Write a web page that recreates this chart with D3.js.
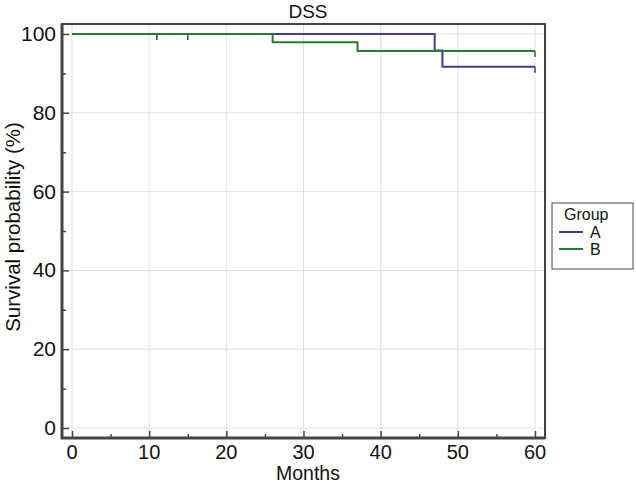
<!DOCTYPE html>
<html>
<head>
<meta charset="utf-8">
<script src="https://cdn.jsdelivr.net/npm/d3@7"></script>
<style>
  body { margin: 0; background: #fff; }
  svg { font-family: "Liberation Sans", Arial, sans-serif; }
</style>
</head>
<body>
<script>
const width = 636;
const height = 484;

// step data: [month, survival %]
const groupA = [[0, 100], [47, 100], [47, 95.8], [48, 95.8], [48, 91.7], [60, 91.7]];
const groupB = [[0, 100], [26, 100], [26, 97.9], [37, 97.9], [37, 95.7], [60, 95.7]];
const censorA = [[11, 100], [15, 100], [60, 91.7]];
const censorB = [[60, 95.7]];
const groups = ["A", "B"];
const colors = ["#3b3d96", "#2b7a32"];
const xTicks = [0, 10, 20, 30, 40, 50, 60];
const yTicks = [0, 20, 40, 60, 80, 100];

const frame = { left: 62, right: 545, top: 24, bottom: 438 };

const x = d3.scaleLinear().domain([0, 60]).range([72, 535]);
const y = d3.scaleLinear().domain([0, 100]).range([428, 34]);

const svg = d3.select("body").append("svg")
  .attr("width", width)
  .attr("height", height);

// grid
svg.append("g")
  .selectAll("line")
  .data(xTicks)
  .join("line")
  .attr("x1", d => x(d)).attr("x2", d => x(d))
  .attr("y1", frame.top).attr("y2", frame.bottom)
  .attr("stroke", "#e0e0e0").attr("stroke-width", 1);

svg.append("g")
  .selectAll("line")
  .data(yTicks)
  .join("line")
  .attr("x1", frame.left).attr("x2", frame.right)
  .attr("y1", d => y(d)).attr("y2", d => y(d))
  .attr("stroke", "#e0e0e0").attr("stroke-width", 1);

// curves
const line = d3.line().x(d => x(d[0])).y(d => y(d[1]));
const series = [groupA, groupB];
const censors = [censorA, censorB];

series.forEach((s, i) => {
  svg.append("path")
    .attr("d", line(s))
    .attr("fill", "none")
    .attr("stroke", colors[i])
    .attr("stroke-width", 2);

  svg.append("g")
    .selectAll("line")
    .data(censors[i])
    .join("line")
    .attr("x1", d => x(d[0])).attr("x2", d => x(d[0]))
    .attr("y1", d => y(d[1])).attr("y2", d => y(d[1]) + 6)
    .attr("stroke", colors[i])
    .attr("stroke-width", 1.5);
});

// frame
svg.append("rect")
  .attr("x", frame.left).attr("y", frame.top)
  .attr("width", frame.right - frame.left)
  .attr("height", frame.bottom - frame.top)
  .attr("fill", "none")
  .attr("stroke", "#444")
  .attr("stroke-width", 2);
// heavier left and bottom edges
svg.append("path")
  .attr("d", `M${frame.left},${frame.top}V${frame.bottom}H${frame.right}`)
  .attr("fill", "none")
  .attr("stroke", "#444")
  .attr("stroke-width", 3);

// axes (ticks inward)
const xAxis = svg.append("g")
  .attr("transform", `translate(0,${frame.bottom})`)
  .call(d3.axisBottom(x).tickValues(d3.range(0, 61, 5)).tickSize(-6).tickFormat(""));
xAxis.select(".domain").remove();
xAxis.selectAll(".tick line")
  .attr("stroke", "#444").attr("stroke-width", 1.5)
  .attr("y2", d => d % 10 === 0 ? -7 : -4);

svg.append("g")
  .selectAll("text")
  .data(xTicks)
  .join("text")
  .attr("x", d => x(d))
  .attr("y", 459)
  .attr("text-anchor", "middle")
  .attr("font-size", 20)
  .attr("fill", "#111")
  .text(d => d);

const yAxis = svg.append("g")
  .attr("transform", `translate(${frame.left},0)`)
  .call(d3.axisLeft(y).tickValues(d3.range(0, 101, 10)).tickSize(-6).tickFormat(""));
yAxis.select(".domain").remove();
yAxis.selectAll(".tick line")
  .attr("stroke", "#444").attr("stroke-width", 1.5)
  .attr("x2", d => d % 20 === 0 ? 7 : 4);

svg.append("g")
  .selectAll("text")
  .data(yTicks)
  .join("text")
  .attr("x", 56)
  .attr("y", d => y(d) + 7)
  .attr("text-anchor", "end")
  .attr("font-size", 21)
  .attr("fill", "#111")
  .text(d => d);

// titles
svg.append("text")
  .attr("x", 308).attr("y", 18)
  .attr("text-anchor", "middle")
  .attr("font-size", 19)
  .attr("fill", "#111")
  .text("DSS");

svg.append("text")
  .attr("x", 308).attr("y", 480)
  .attr("text-anchor", "middle")
  .attr("font-size", 19.5)
  .attr("fill", "#111")
  .text("Months");

svg.append("text")
  .attr("transform", `translate(20,227) rotate(-90)`)
  .attr("text-anchor", "middle")
  .attr("font-size", 20.5)
  .attr("fill", "#111")
  .text("Survival probability (%)");

// legend
const legend = svg.append("g").attr("transform", "translate(552,203)");
legend.append("rect")
  .attr("width", 81).attr("height", 66)
  .attr("fill", "#fff")
  .attr("stroke", "#444")
  .attr("stroke-width", 1);
legend.append("text")
  .attr("x", 12).attr("y", 17)
  .attr("font-size", 16)
  .attr("fill", "#111")
  .text("Group");
groups.forEach((g, i) => {
  const yy = 29 + i * 17;
  legend.append("line")
    .attr("x1", 7).attr("x2", 31)
    .attr("y1", yy).attr("y2", yy)
    .attr("stroke", colors[i]).attr("stroke-width", 2);
  legend.append("text")
    .attr("x", 38).attr("y", yy + 6)
    .attr("font-size", 16)
    .attr("fill", "#111")
    .text(g);
});
</script>
</body>
</html>
